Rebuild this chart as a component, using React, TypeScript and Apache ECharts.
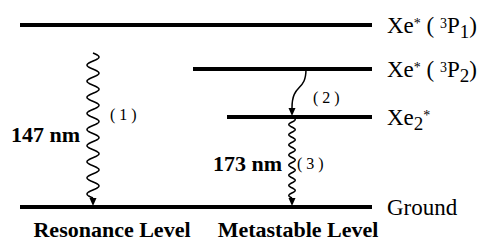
import React, { useEffect, useRef } from "react";
import * as echarts from "echarts";

// ---- data ----
const levelNames = ["Xe* (3P1)", "Xe* (3P2)", "Xe2*", "Ground"];
const levelEnergies = [182, 138, 90, 0];
const levelRichLabels = [
  "{m|Xe}{sup|*}{m| ( }{sup|3}{m|P}{sub|1}{m|)}",
  "{m|Xe}{sup|*}{m| ( }{sup|3}{m|P}{sub|2}{m|)}",
  "{m|Xe}{sub|2}{sup|*}",
  "{m|Ground}",
];
const transitionFrom = [0, 1, 2];
const transitionTo = [3, 2, 3];
const transitionTags = ["( 1 )", "( 2 )", "( 3 )"];
const transitionWavelengths = ["147 nm", "", "173 nm"];
const transitionKinds = ["wave", "curve", "wave"];
const columnNames = ["Resonance Level", "Metastable Level"];

// ---- layout (pixel-space on value axes) ----
const levelSpans = [
  [20, 372],
  [193, 372],
  [227, 372],
  [20, 372],
];
const transitionX = [
  [93, 93],
  [306, 292],
  [292, 292],
];
const transitionStartGap = [28, 0, 0];
const waveAmp = [6, 0, 3.2];
const waveCycles = [9, 0, 8];
const tagOffsets = [
  [17, -16],
  [7, 4],
  [5, 1],
];
const wavelengthOffsets = [
  [-13, 4],
  [0, 0],
  [-10, 1],
];
const columnX = [112, 298];
const columnY = -22;

const SERIF = "Liberation Serif, Times New Roman, serif";

export default function App() {
  const ref = useRef<HTMLDivElement>(null);
  useEffect(() => {
    if (!ref.current) return;
    const chart = echarts.init(ref.current, undefined, { renderer: "svg" });

    const levelSeries = levelNames.map((name, i) => ({
      type: "line",
      name,
      data: [
        [levelSpans[i][0], levelEnergies[i]],
        [levelSpans[i][1], levelEnergies[i]],
      ],
      symbol: "none",
      silent: true,
      lineStyle: { color: "#000", width: 4 },
      endLabel: {
        show: true,
        distance: 15,
        color: "#000",
        fontFamily: SERIF,
        formatter: () => levelRichLabels[i],
        rich: {
          m: { fontFamily: SERIF, fontSize: 23, color: "#000", lineHeight: 34 },
          sup: {
            fontFamily: SERIF,
            fontSize: 14,
            color: "#000",
            padding: [8, 0, 0, 0],
            verticalAlign: "top",
          },
          sub: {
            fontFamily: SERIF,
            fontSize: 19,
            color: "#000",
            padding: [0, 0, 1, 0],
            verticalAlign: "bottom",
          },
        },
      },
    }));

    const transitionSeries = {
      type: "custom",
      coordinateSystem: "cartesian2d",
      clip: false,
      silent: true,
      data: transitionFrom.map((f, i) => [
        transitionX[i][0],
        levelEnergies[f],
        transitionX[i][1],
        levelEnergies[transitionTo[i]],
      ]),
      encode: { x: [0, 2], y: [1, 3] },
      renderItem: (params: any, api: any) => {
        const i = params.dataIndex;
        const pA = api.coord([api.value(0), api.value(1)]);
        const pB = api.coord([api.value(2), api.value(3)]);
        const y0 = pA[1] + transitionStartGap[i];
        const tipY = pB[1] - 1;
        const headH = 8;
        const headW = 3.5;
        const children: any[] = [];
        if (transitionKinds[i] === "wave") {
          const cx = pA[0];
          const endY = tipY - headH;
          const period = (endY - y0) / waveCycles[i];
          const pts: number[][] = [];
          for (let y = y0; y <= endY + 0.01; y += 0.5) {
            pts.push([cx + waveAmp[i] * Math.sin((2 * Math.PI * (y - y0)) / period), y]);
          }
          children.push({
            type: "polyline",
            shape: { points: pts },
            style: { stroke: "#000", lineWidth: 1.5, fill: null },
          });
        } else {
          const endY = tipY - headH;
          const len = endY - pA[1];
          children.push({
            type: "bezierCurve",
            shape: {
              x1: pA[0],
              y1: pA[1],
              cpx1: pA[0],
              cpy1: pA[1] + len * 0.6,
              cpx2: pB[0],
              cpy2: pA[1] + len * 0.35,
              x2: pB[0],
              y2: endY,
            },
            style: { stroke: "#000", lineWidth: 1.5, fill: null },
          });
        }
        children.push({
          type: "polygon",
          shape: {
            points: [
              [pB[0] - headW, tipY - headH],
              [pB[0] + headW, tipY - headH],
              [pB[0], tipY],
            ],
          },
          style: { fill: "#000" },
        });
        const midY = (y0 + pB[1]) / 2;
        children.push({
          type: "text",
          x: pA[0] + tagOffsets[i][0],
          y: midY + tagOffsets[i][1],
          style: {
            text: transitionTags[i],
            fontFamily: SERIF,
            fontSize: 16,
            fill: "#000",
            align: "left",
            verticalAlign: "middle",
          },
        });
        if (transitionWavelengths[i]) {
          children.push({
            type: "text",
            x: pB[0] + wavelengthOffsets[i][0],
            y: midY + wavelengthOffsets[i][1],
            style: {
              text: transitionWavelengths[i],
              fontFamily: SERIF,
              fontSize: 22,
              fontWeight: "bold",
              fill: "#000",
              align: "right",
              verticalAlign: "middle",
            },
          });
        }
        return { type: "group", children };
      },
    };

    const columnSeries = {
      type: "custom",
      coordinateSystem: "cartesian2d",
      clip: false,
      silent: true,
      data: columnNames.map((n, i) => [columnX[i], columnY]),
      renderItem: (params: any, api: any) => {
        const p = api.coord([api.value(0), api.value(1)]);
        return {
          type: "text",
          x: p[0],
          y: p[1],
          style: {
            text: columnNames[params.dataIndex],
            fontFamily: SERIF,
            fontSize: 22,
            fontWeight: "bold",
            fill: "#000",
            align: "center",
            verticalAlign: "middle",
          },
        };
      },
    };

    chart.setOption({
      animation: false,
      backgroundColor: "#fff",
      textStyle: { fontFamily: SERIF },
      grid: { left: 0, right: 0, top: 0, bottom: 0, containLabel: false },
      xAxis: { type: "value", min: 0, max: 483, show: false },
      yAxis: { type: "value", min: -37, max: 207, show: false },
      series: [...levelSeries, transitionSeries, columnSeries],
    } as any);

    return () => chart.dispose();
  }, []);
  return (
    <div
      ref={ref}
      style={{ position: "fixed", left: 0, top: 0, width: 483, height: 244, background: "#fff" }}
    />
  );
}
